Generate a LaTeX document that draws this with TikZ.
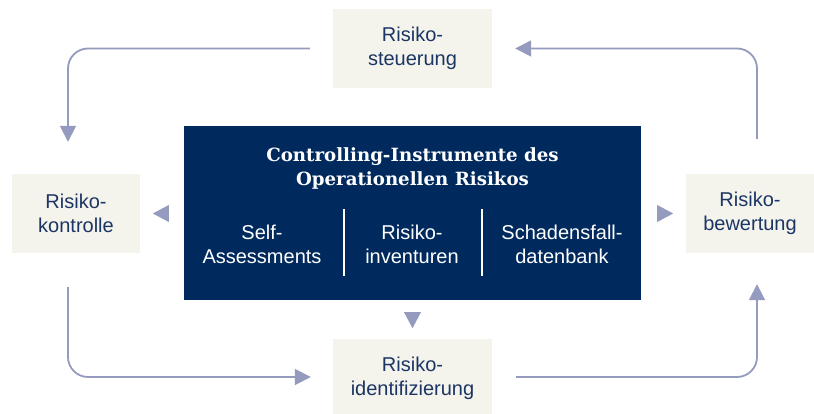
\documentclass[tikz,border=0pt]{standalone}
\usepackage{fontspec}
\setmainfont{Liberation Sans}
\newfontfamily\titlefont{DejaVu Serif}
\usetikzlibrary{arrows.meta}
\definecolor{navy}{HTML}{002A5E}
\definecolor{boxbg}{HTML}{F4F3EC}
\definecolor{txtc}{HTML}{1B3564}
\definecolor{arrc}{HTML}{959ABF}
\begin{document}
\begin{tikzpicture}[x=1pt,y=-1pt]
\tikzset{
  stage/.style={fill=boxbg, text=txtc, font=\fontsize{20}{24.5}\selectfont, align=center, inner sep=0pt, minimum height=79pt},
  item/.style={text=white, font=\fontsize{20}{24}\selectfont, align=center, inner sep=0pt},
  conn/.style={draw=arrc, line width=1.8pt, rounded corners=20pt, -{Triangle[length=16pt,width=16pt]}},
  tri/.style={fill=arrc},
  divider/.style={draw=white, line width=1.2pt}
}
\useasboundingbox (0,0) rectangle (814,414);
% stage boxes
\node[stage, minimum width=159pt] (steu) at (412.5,48.5) {Risiko-\\steuerung};
\node[stage, minimum width=128pt] (kontr) at (76,213.5) {Risiko-\\kontrolle};
\node[stage, minimum width=128pt] (bew) at (750,213.5) {Risiko-\\bewertung};
\node[stage, minimum width=159pt] (ident) at (412.5,378.5) {Risiko-\\identifizierung};
% central box
\node[fill=navy, minimum width=457pt, minimum height=174pt, inner sep=0pt] (instr) at (412.5,213) {};
\node[text=white, font=\titlefont\bfseries\fontsize{18.2}{24}\selectfont, align=center, inner sep=0pt] (title) at (412.5,168.5) {Controlling-Instrumente des\\Operationellen Risikos};
\node[item] (self) at (262,244.5) {Self-\\Assessments};
\node[item] (inv) at (412,244.5) {Risiko-\\inventuren};
\node[item] (scha) at (562,244.5) {Schadensfall-\\datenbank};
\draw[divider] (344,209) -- (344,276);
\draw[divider] (482,209) -- (482,276);
% connectors
\draw[conn] ([xshift=-23pt]steu.west) -| ([xshift=-8pt,yshift=32pt]kontr.north);
\draw[conn] ([xshift=7pt,yshift=35pt]bew.north) |- ([xshift=23pt]steu.east);
\draw[conn] ([xshift=-8pt,yshift=-34pt]kontr.south) |- ([xshift=-22pt,yshift=1.5pt]ident.west);
\draw[conn] ([xshift=24pt,yshift=1.5pt]ident.east) -| ([xshift=7pt,yshift=-31pt]bew.south);
% small triangles
\coordinate (lt) at (instr.west |- kontr.east);
\coordinate (rt) at (instr.east |- bew.west);
\fill[tri] ([xshift=-15pt]lt) ++(0,-8.5) -- ++(0,17) -- ++(-16,-8.5) -- cycle;
\fill[tri] ([xshift=16pt]rt) ++(0,-8.5) -- ++(0,17) -- ++(16,-8.5) -- cycle;
\fill[tri] ([yshift=-12pt]instr.south) ++(-8.5,0) -- ++(17,0) -- ++(-8.5,16) -- cycle;
\end{tikzpicture}
\end{document}
